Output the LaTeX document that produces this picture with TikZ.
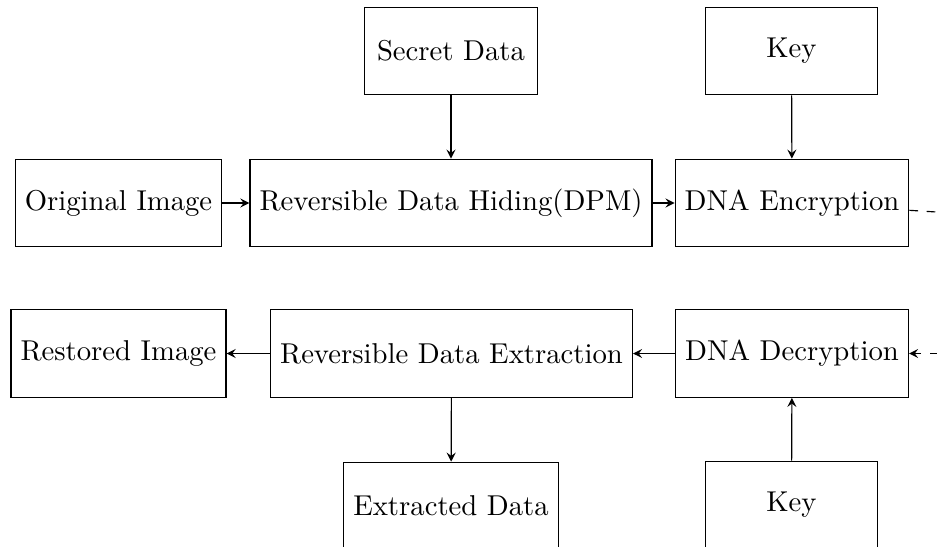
\documentclass[tikz,border=0pt]{standalone}
\begin{document}
\begin{tikzpicture}[x=0.3484pt, y=-0.3484pt,
    box/.style={draw, line width=0.4pt, minimum width=60pt, minimum height=30.5pt, inner sep=3.33pt},
    flow/.style={-stealth, line width=0.4pt}]
  \useasboundingbox (0,0) rectangle (937,546);
  \clip (0,0) rectangle (937,546);

  % embedding side
  \node[box] (secret) at (451,51)    {Secret Data};
  \node[box] (keyA)   at (791.5,51)  {Key};
  \node[box] (orig)   at (118.5,203) {Original Image};
  \node[box] (rdh)    at (451,203)   {Reversible Data Hiding(DPM)};
  \node[box] (enc)    at (792,203)   {DNA Encryption};

  % extraction side
  \node[box] (restored)  at (118.5,353.5) {Restored Image};
  \node[box] (rde)       at (451.5,353.5) {Reversible Data Extraction};
  \node[box] (dec)       at (792,353.5)   {DNA Decryption};
  \node[box] (extracted) at (451,506)     {Extracted Data};
  \node[box] (keyB)      at (791.5,505)   {Key};

  % transmission channel to the right
  \coordinate (chan) at (2000,278.5);

  \draw[flow] (secret) -- (rdh);
  \draw[flow] (keyA) -- (enc);
  \draw[flow] (orig) -- (rdh);
  \draw[flow] (rdh) -- (enc);
  \draw[dashed, line width=0.4pt] (enc) -- (chan);
  \draw[flow, dashed] (chan) |- (dec);
  \draw[flow] (dec) -- (rde);
  \draw[flow] (rde) -- (restored);
  \draw[flow] (rde) -- (extracted);
  \draw[flow] (keyB) -- (dec);
\end{tikzpicture}
\end{document}
